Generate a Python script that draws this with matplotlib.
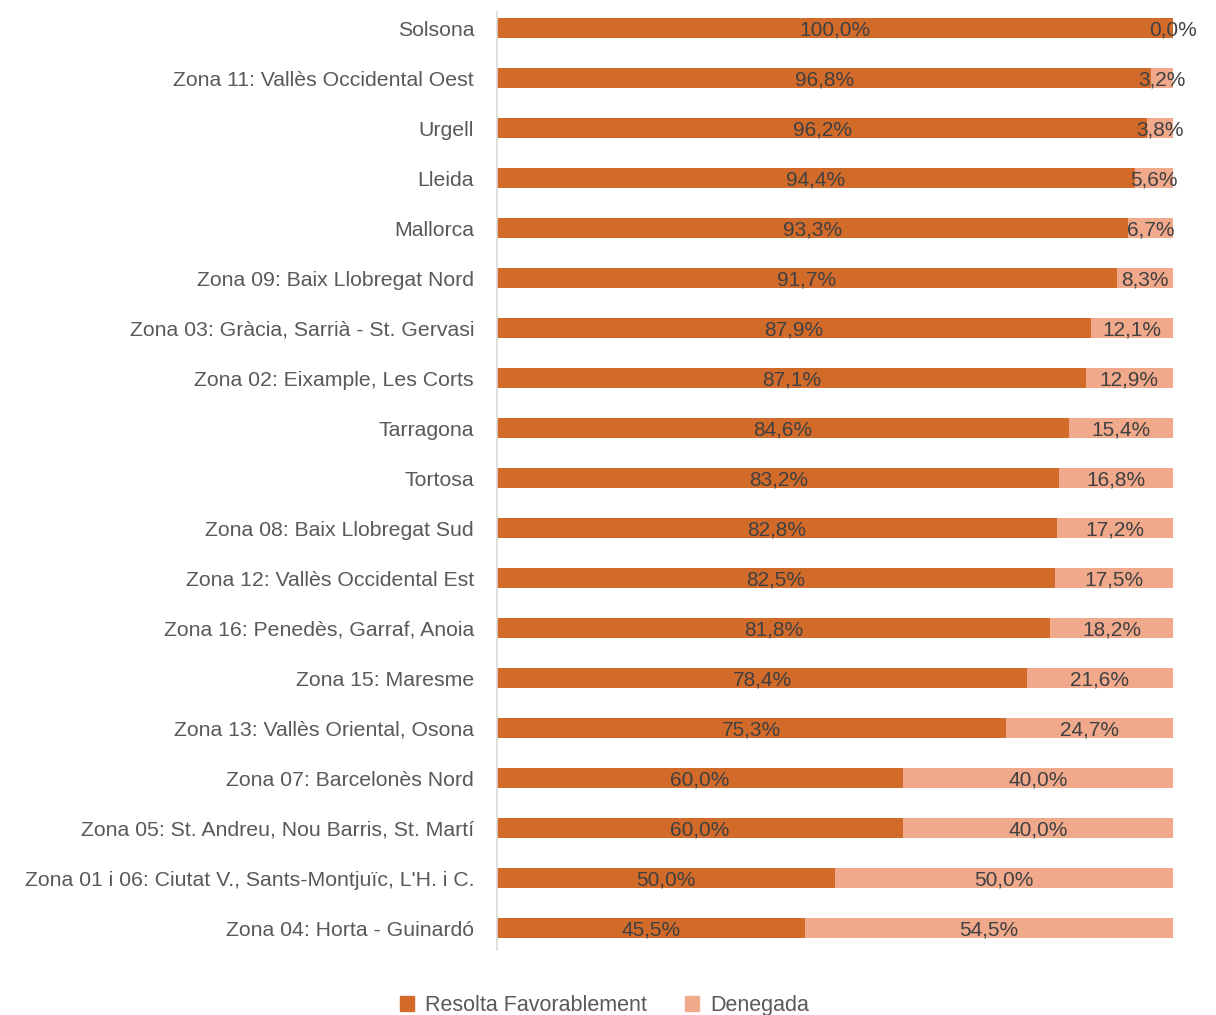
import numpy as np
import matplotlib.pyplot as plt
from matplotlib.patches import Patch

zones = [
    "Solsona",
    "Zona 11: Vallès Occidental Oest",
    "Urgell",
    "Lleida",
    "Mallorca",
    "Zona 09: Baix Llobregat Nord",
    "Zona 03: Gràcia, Sarrià - St. Gervasi",
    "Zona 02: Eixample, Les Corts",
    "Tarragona",
    "Tortosa",
    "Zona 08: Baix Llobregat Sud",
    "Zona 12: Vallès Occidental Est",
    "Zona 16: Penedès, Garraf, Anoia",
    "Zona 15: Maresme",
    "Zona 13: Vallès Oriental, Osona",
    "Zona 07: Barcelonès Nord",
    "Zona 05: St. Andreu, Nou Barris, St. Martí",
    "Zona 01 i 06: Ciutat V., Sants-Montjuïc, L'H. i C.",
    "Zona 04: Horta - Guinardó",
]
favorable = [100.0, 96.8, 96.2, 94.4, 93.3, 91.7, 87.9, 87.1, 84.6, 83.2,
             82.8, 82.5, 81.8, 78.4, 75.3, 60.0, 60.0, 50.0, 45.5]
denegada = [0.0, 3.2, 3.8, 5.6, 6.7, 8.3, 12.1, 12.9, 15.4, 16.8,
            17.2, 17.5, 18.2, 21.6, 24.7, 40.0, 40.0, 50.0, 54.5]
series_names = ["Resolta Favorablement", "Denegada"]

c_fav = "#D26B2A"
c_den = "#F0A98B"
txt = "#595959"
lbl = "#404040"

plt.rcParams['font.family'] = ['Liberation Sans', 'DejaVu Sans']

fig = plt.figure(figsize=(12.16, 10.15), dpi=100)
ax = fig.add_axes([0.4087, 0.064, 0.5559, 0.924])

y = np.arange(len(zones))
fav = np.array(favorable)
den = np.array(denegada)

ax.barh(y, fav, height=0.4, color=c_fav)
ax.barh(y, den, left=fav, height=0.4, color=c_den)

def fmt(v):
    return f"{v:.1f}%".replace(".", ",")

# data labels centred in each segment
for i in range(len(zones)):
    ax.text(fav[i] / 2, y[i] + 0.03, fmt(fav[i]), ha='center', va='center',
            fontsize=15, color=lbl)
    ax.text(fav[i] + den[i] / 2, y[i] + 0.03, fmt(den[i]), ha='center', va='center',
            fontsize=15, color=lbl)

ax.set_xlim(0, 100)
ax.set_ylim(18.44, -0.32)
ax.set_yticks(y)
ax.set_yticklabels(zones, fontsize=15.3, color=txt)
ax.tick_params(axis='y', length=0, pad=16.5)
ax.set_xticks([])
for s in ['top', 'right', 'bottom']:
    ax.spines[s].set_visible(False)
ax.spines['left'].set_color('#D9D9D9')
ax.spines['left'].set_linewidth(1.2)

handles = [Patch(color=c_fav), Patch(color=c_den)]
fig.legend(handles, series_names, loc='lower center', bbox_to_anchor=(0.497, -0.02),
           ncol=2, frameon=False, fontsize=15.5, handlelength=0.65, handleheight=0.65,
           columnspacing=1.8, handletextpad=0.5, labelcolor=txt)

fig.savefig("out.png", dpi=100)
